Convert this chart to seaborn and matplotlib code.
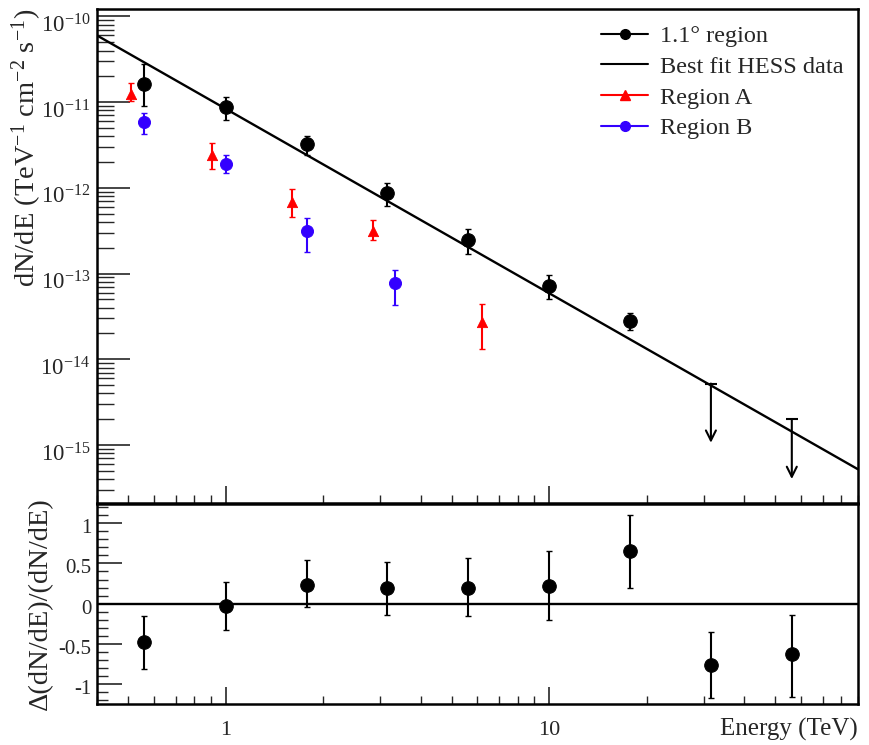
import matplotlib
matplotlib.use("Agg")
import matplotlib.pyplot as plt
import matplotlib.ticker as mticker
import matplotlib.transforms as mtransforms
from matplotlib.lines import Line2D
import seaborn as sns
import numpy as np
import pandas as pd

sns.set_theme(style="ticks")
plt.rcParams['font.family'] = ['Liberation Serif', 'DejaVu Serif']
plt.rcParams['mathtext.fontset'] = 'custom'
plt.rcParams['mathtext.rm'] = 'Liberation Serif'
plt.rcParams['mathtext.it'] = 'Liberation Serif:italic'
plt.rcParams['axes.unicode_minus'] = False

# 1.1 deg region spectrum
energy = [0.56, 1.0, 1.78, 3.16, 5.62, 10.0, 17.8]
flux = [1.64e-11, 8.8e-12, 3.26e-12, 8.6e-13, 2.49e-13, 7.1e-14, 2.8e-14]
flux_hi = [2.75e-11, 1.15e-11, 3.98e-12, 1.13e-12, 3.3e-13, 9.5e-14, 3.5e-14]
flux_lo = [9.0e-12, 6.2e-12, 2.42e-12, 6.1e-13, 1.71e-13, 5.0e-14, 2.2e-14]

# upper limits
ul_energy = [31.6, 56.2]
ul_flux = [5.2e-15, 2.0e-15]
ul_tip = [1.06e-15, 4.0e-16]

# region A
regA_energy = [0.508, 0.905, 1.6, 2.85, 6.2]
regA_flux = [1.25e-11, 2.4e-12, 6.9e-13, 3.15e-13, 2.7e-14]
regA_hi = [1.68e-11, 3.3e-12, 9.7e-13, 4.2e-13, 4.4e-14]
regA_lo = [1.03e-11, 1.66e-12, 4.6e-13, 2.45e-13, 1.33e-14]

# region B
regB_energy = [0.56, 1.0, 1.78, 3.34]
regB_flux = [5.9e-12, 1.9e-12, 3.15e-13, 7.7e-14]
regB_hi = [7.5e-12, 2.4e-12, 4.4e-13, 1.11e-13]
regB_lo = [4.2e-12, 1.5e-12, 1.79e-13, 4.3e-14]

# best fit HESS (end points of the line)
fit_energy = [0.4, 90.0]
fit_flux = [6.0e-11, 5.2e-16]

# residuals
res_energy = [0.56, 1.0, 1.78, 3.16, 5.62, 10.0, 17.8, 31.6, 56.2]
res = [-0.48, -0.03, 0.236, 0.195, 0.20, 0.22, 0.655, -0.76, -0.63]
res_hi = [-0.15, 0.265, 0.54, 0.52, 0.57, 0.65, 1.10, -0.35, -0.14]
res_lo = [-0.82, -0.33, -0.046, -0.145, -0.15, -0.20, 0.19, -1.18, -1.16]


def yerr(v, hi, lo):
    v = np.array(v); return [v - np.array(lo), np.array(hi) - v]


fig = plt.figure(figsize=(8.69, 7.45), dpi=100)
ax1 = fig.add_axes([0.1116, 0.3248, 0.8757, 0.6631])
ax2 = fig.add_axes([0.1116, 0.055, 0.8757, 0.2685], sharex=ax1)

fit_df = pd.DataFrame({'E': fit_energy, 'F': fit_flux})
sns.lineplot(data=fit_df, x='E', y='F', ax=ax1, color='black', lw=1.7)

ax1.errorbar(regA_energy, regA_flux, yerr=yerr(regA_flux, regA_hi, regA_lo), fmt='none',
             ecolor='red', elinewidth=1.5, capsize=2)
sns.scatterplot(x=regA_energy, y=regA_flux, ax=ax1, marker='^', color='red', s=55, edgecolor='red')
ax1.errorbar(regB_energy, regB_flux, yerr=yerr(regB_flux, regB_hi, regB_lo), fmt='none',
             ecolor='#3300ff', elinewidth=1.5, capsize=2)
sns.scatterplot(x=regB_energy, y=regB_flux, ax=ax1, marker='o', color='#3300ff', s=75, edgecolor='#3300ff')
ax1.errorbar(energy, flux, yerr=yerr(flux, flux_hi, flux_lo), fmt='none',
             ecolor='black', elinewidth=1.5, capsize=2)
sns.scatterplot(x=energy, y=flux, ax=ax1, marker='o', color='black', s=95, edgecolor='black')

# upper limits
for e, f, t in zip(ul_energy, ul_flux, ul_tip):
    ax1.annotate('', xy=(e, t), xytext=(e, f),
                 arrowprops=dict(arrowstyle='->', lw=1.5, color='black', mutation_scale=18,
                                 shrinkA=0, shrinkB=0))
ax1.plot(ul_energy, ul_flux, ls='none', marker='_', ms=9, mew=1.5, color='black')

ax1.set_xscale('log')
ax1.set_yscale('log')
ax1.set_xlim(0.4, 90)
ax1.set_ylim(2.1e-16, 1.22e-10)
ax1.set_xlabel('')
ax1.set_ylabel('dN/dE (TeV$^{-1}$ cm$^{-2}$ s$^{-1}$)', fontsize=20.5, loc='top')
ax1.yaxis.set_label_coords(-0.069, 1.0)
ax1.yaxis.set_major_locator(mticker.LogLocator(base=10, numticks=20))
ax1.yaxis.set_minor_locator(mticker.LogLocator(base=10, subs=np.arange(2, 10), numticks=20))
ax1.yaxis.set_minor_formatter(mticker.NullFormatter())
ax1.tick_params(axis='y', which='major', direction='in', length=24, width=1.2, labelsize=16.5, pad=5)
ax1.tick_params(axis='y', which='minor', direction='in', length=12, width=1.0)
ax1.tick_params(axis='x', which='major', direction='in', length=12, width=1.2, labelbottom=False)
ax1.tick_params(axis='x', which='minor', direction='in', length=6, width=1.0, labelbottom=False)

handles = [
    Line2D([], [], color='black', marker='o', ms=7, lw=1.5),
    Line2D([], [], color='black', lw=1.5),
    Line2D([], [], color='red', marker='^', ms=7, lw=1.5),
    Line2D([], [], color='#3300ff', marker='o', ms=7, lw=1.5),
]
labels = ['1.1° region', 'Best fit HESS data', 'Region A', 'Region B']
ax1.legend(handles, labels, loc='upper right', frameon=False, fontsize=17.5,
           handlelength=1.9, handletextpad=0.5, labelspacing=0.36,
           bbox_to_anchor=(1.0, 0.997), borderaxespad=0.2, borderpad=0.4)

# residual panel
ax2.axhline(0, color='black', lw=1.7)
ax2.errorbar(res_energy, res, yerr=yerr(res, res_hi, res_lo), fmt='none',
             ecolor='black', elinewidth=1.5, capsize=2)
sns.scatterplot(x=res_energy, y=res, ax=ax2, marker='o', color='black', s=95, edgecolor='black')
ax2.set_ylim(-1.25, 1.24)
ax2.set_yticks([-1, -0.5, 0, 0.5, 1])
ax2.yaxis.set_major_formatter(mticker.FuncFormatter(lambda v, p: '%g' % v))
ax2.yaxis.set_minor_locator(mticker.MultipleLocator(0.1))
ax2.set_ylabel('Δ(dN/dE)/(dN/dE)', fontsize=20.5)
ax2.yaxis.set_label_coords(-0.058, 0.5)
ax2.set_xlabel('Energy (TeV)', fontsize=18, loc='right')
ax2.xaxis.set_label_coords(1.0, -0.07)
ax2.xaxis.label.set_va('top')
ax2.xaxis.set_major_formatter(mticker.FuncFormatter(lambda v, p: '%g' % v))
ax2.xaxis.set_minor_formatter(mticker.NullFormatter())
ax2.tick_params(axis='y', which='major', direction='in', length=18, width=1.2, labelsize=15, pad=4)
ax2.tick_params(axis='y', which='minor', direction='in', length=8, width=1.0)
ax2.tick_params(axis='x', which='major', direction='in', length=12, width=1.2, labelsize=16, pad=12)
ax2.tick_params(axis='x', which='minor', direction='in', length=6, width=1.0)

for ax in (ax1, ax2):
    for s in ax.spines.values():
        s.set_linewidth(1.8)
        s.set_color('black')

# ROOT-style: shift the y tick labels a little downwards
fig.canvas.draw()
shift1 = mtransforms.ScaledTranslation(0, -7 / 100, fig.dpi_scale_trans)
for lab in ax1.get_yticklabels():
    lab.set_transform(lab.get_transform() + shift1)
shift2 = mtransforms.ScaledTranslation(0, -3 / 100, fig.dpi_scale_trans)
for lab in ax2.get_yticklabels():
    lab.set_transform(lab.get_transform() + shift2)

fig.savefig('out.png', dpi=100)
